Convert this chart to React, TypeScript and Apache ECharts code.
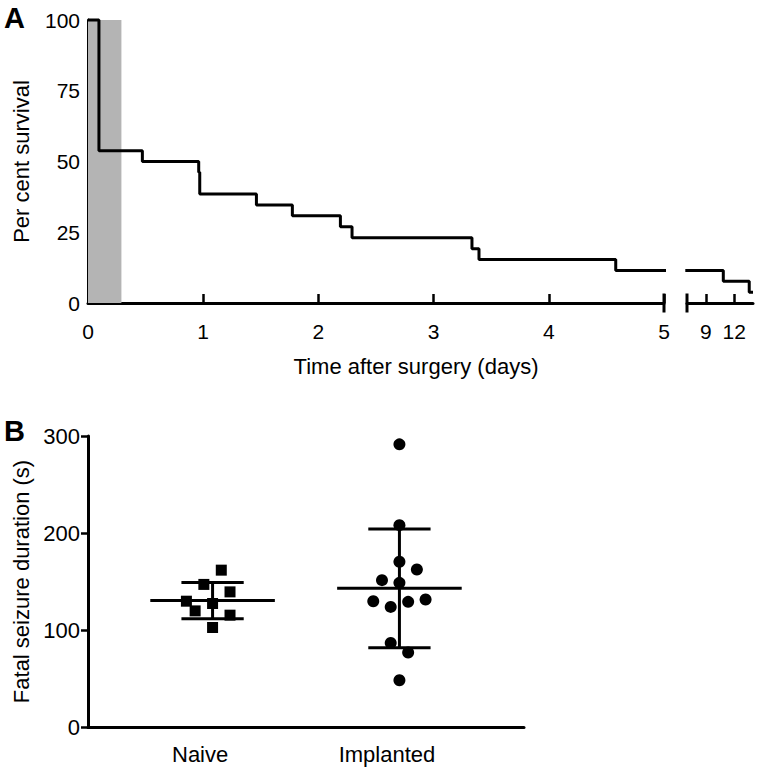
import React, { useEffect, useRef } from "react";
import * as echarts from "echarts";

// ---------- Panel A: Kaplan–Meier survival ----------
const earlyTimes = [0, 0.095, 0.472, 0.961, 0.97, 1.462, 1.774, 2.191, 2.292, 3.333, 3.394, 4.581, 5.02];
const earlySurvival = [100, 53.8, 50, 46.2, 38.5, 34.6, 30.8, 26.9, 23.1, 19.2, 15.4, 11.5, 11.5];
const lateTimes = [6.82, 10.85, 13.6, 14.0];
const lateSurvival = [11.5, 7.7, 3.8, 3.8];
const shadedWindow = [0, 0.29];
const earlyRange = [0, 5];
const lateRange = [7, 14];
const lateTicks = [9, 12];
const breakEarly = [5];
const breakLate = [7];

// ---------- Panel B: fatal seizure duration ----------
const groups = ["Naive", "Implanted"];
const groupCenters = [1, 2.5];
const naiveValues = [161.7, 147, 139.3, 129.7, 127.3, 119.7, 115.3, 102.6];
const naiveJitter = [0.07, -0.07, 0.14, -0.21, 0, -0.14, 0.14, 0];
const implantedValues = [291.4, 208.1, 170.3, 162.4, 151.4, 148.6, 129.7, 123.8, 129, 131.5, 86.7, 76.8, 48.2];
const implantedJitter = [0, 0, 0, 0.14, -0.14, 0, -0.21, -0.07, 0.07, 0.21, -0.07, 0.07, 0];

const FONT = "'Liberation Sans', Arial, Helvetica, sans-serif";
const BLACK = "#000";

function meanSd(v: number[]) {
  const m = v.reduce((a, b) => a + b, 0) / v.length;
  const s = Math.sqrt(v.reduce((a, b) => a + (b - m) * (b - m), 0) / (v.length - 1));
  return [m, s];
}

export default function App() {
  const ref = useRef<HTMLDivElement>(null);
  useEffect(() => {
    if (!ref.current) return;
    const chart = echarts.init(ref.current, null, { renderer: "svg" });
    const [mN, sN] = meanSd(naiveValues);
    const [mI, sI] = meanSd(implantedValues);
    const labelShift = -0.1;

    const axisLine = { show: true, onZero: false, lineStyle: { color: BLACK, width: 3 } };
    const tickStyle = { color: BLACK, width: 2.5 };

    const option: any = {
      animation: false,
      backgroundColor: "#fff",
      textStyle: { fontFamily: FONT },
      grid: [
        { left: 88, top: 20, width: 576, height: 283 },
        { left: 687, top: 20, width: 66, height: 283 },
        { left: 88, top: 436, width: 436, height: 291 },
      ],
      xAxis: [
        {
          gridIndex: 0, type: "value", min: earlyRange[0], max: earlyRange[1], interval: 1,
          axisLine, splitLine: { show: false },
          axisTick: { show: true, inside: true, length: 9, lineStyle: tickStyle },
          axisLabel: { color: BLACK, fontSize: 21, margin: 18, fontFamily: FONT },
        },
        {
          gridIndex: 1, type: "value", min: lateRange[0], max: lateRange[1],
          axisLine, splitLine: { show: false },
          axisTick: { show: true, inside: true, length: 9, lineStyle: tickStyle, customValues: lateTicks },
          axisLabel: { color: BLACK, fontSize: 21, margin: 18, fontFamily: FONT, customValues: lateTicks },
        },
        {
          gridIndex: 2, type: "value", min: 0, max: 3.5,
          axisLine, splitLine: { show: false },
          axisTick: { show: false },
          axisLabel: {
            color: BLACK, fontSize: 22, margin: 16, fontFamily: FONT,
            customValues: groupCenters.map((c) => c + labelShift),
            formatter: (v: number) => {
              let best = 0;
              groupCenters.forEach((c, i) => {
                if (Math.abs(c + labelShift - v) < Math.abs(groupCenters[best] + labelShift - v)) best = i;
              });
              return groups[best];
            },
          },
        },
      ],
      yAxis: [
        {
          gridIndex: 0, type: "value", min: 0, max: 100, interval: 25,
          axisLine, splitLine: { show: false },
          axisTick: { show: true, inside: true, length: 9, lineStyle: tickStyle },
          axisLabel: { color: BLACK, fontSize: 21, margin: 8, fontFamily: FONT },
          name: "Per cent survival", nameLocation: "middle", nameGap: 56,
          nameTextStyle: { color: BLACK, fontSize: 22, fontFamily: FONT },
        },
        { gridIndex: 1, type: "value", min: 0, max: 100, show: false },
        {
          gridIndex: 2, type: "value", min: 0, max: 300, interval: 100,
          axisLine, splitLine: { show: false },
          axisTick: { show: true, inside: false, length: 7, lineStyle: tickStyle },
          axisLabel: { color: BLACK, fontSize: 22, margin: 8, fontFamily: FONT },
          name: "Fatal seizure duration (s)", nameLocation: "middle", nameGap: 56,
          nameTextStyle: { color: BLACK, fontSize: 22, fontFamily: FONT },
        },
      ],
      series: [
        {
          type: "line", xAxisIndex: 0, yAxisIndex: 0, step: "end", symbol: "none", clip: false,
          data: earlyTimes.map((t, i) => [t, earlySurvival[i]]),
          lineStyle: { color: BLACK, width: 3 }, z: 5,
          markArea: {
            silent: true, itemStyle: { color: "#b4b4b4", opacity: 1 },
            data: [[{ xAxis: shadedWindow[0] }, { xAxis: shadedWindow[1] }]],
          },
        },
        {
          type: "line", xAxisIndex: 1, yAxisIndex: 1, step: "end", symbol: "none", clip: false,
          data: lateTimes.map((t, i) => [t, lateSurvival[i]]),
          lineStyle: { color: BLACK, width: 3 }, z: 5,
        },
        {
          type: "scatter", xAxisIndex: 0, yAxisIndex: 0, clip: false, silent: true,
          symbol: "rect", symbolSize: [3, 19], itemStyle: { color: BLACK, opacity: 1 }, z: 6,
          data: breakEarly.map((b) => [b, 0]),
        },
        {
          type: "scatter", xAxisIndex: 1, yAxisIndex: 1, clip: false, silent: true,
          symbol: "rect", symbolSize: [3, 19], itemStyle: { color: BLACK, opacity: 1 }, z: 6,
          data: breakLate.map((b) => [b, 0]),
        },
        {
          type: "custom", xAxisIndex: 2, yAxisIndex: 2, z: 3,
          data: [[groupCenters[0], mN, sN], [groupCenters[1], mI, sI]],
          encode: { x: 0, y: 1 },
          renderItem: (_p: any, api: any) => {
            const c = api.value(0), m = api.value(1), sd = api.value(2);
            const seg = (x1: number, y1: number, x2: number, y2: number) => {
              const a = api.coord([x1, y1]);
              const b = api.coord([x2, y2]);
              return { type: "line", shape: { x1: a[0], y1: a[1], x2: b[0], y2: b[1] }, style: { stroke: BLACK, lineWidth: 3 } };
            };
            return {
              type: "group",
              children: [
                seg(c - 0.5, m, c + 0.5, m),
                seg(c - 0.25, m + sd, c + 0.25, m + sd),
                seg(c - 0.25, m - sd, c + 0.25, m - sd),
                seg(c, m - sd, c, m + sd),
              ],
            };
          },
        },
        {
          type: "scatter", xAxisIndex: 2, yAxisIndex: 2, symbol: "rect", symbolSize: 11,
          itemStyle: { color: BLACK, opacity: 1 }, z: 4,
          data: naiveValues.map((v, i) => [groupCenters[0] + naiveJitter[i], v]),
        },
        {
          type: "scatter", xAxisIndex: 2, yAxisIndex: 2, symbol: "circle", symbolSize: 12,
          itemStyle: { color: BLACK, opacity: 1 }, z: 4,
          data: implantedValues.map((v, i) => [groupCenters[1] + implantedJitter[i], v]),
        },
      ],
      graphic: [
        {
          type: "text", x: 4, y: 18,
          style: { text: "A", fontSize: 29, fontWeight: "bold", fontFamily: FONT, fill: BLACK, align: "left", verticalAlign: "middle" },
        },
        {
          type: "text", x: 4, y: 431,
          style: { text: "B", fontSize: 29, fontWeight: "bold", fontFamily: FONT, fill: BLACK, align: "left", verticalAlign: "middle" },
        },
        {
          type: "text", x: 416, y: 355,
          style: { text: "Time after surgery (days)", fontSize: 22, fontFamily: FONT, fill: BLACK, align: "center", verticalAlign: "top" },
        },
      ],
    };
    chart.setOption(option);
    return () => chart.dispose();
  }, []);
  return (
    <div
      ref={ref}
      style={{ position: "fixed", left: 0, top: 0, width: 760, height: 771, background: "#fff" }}
    />
  );
}
